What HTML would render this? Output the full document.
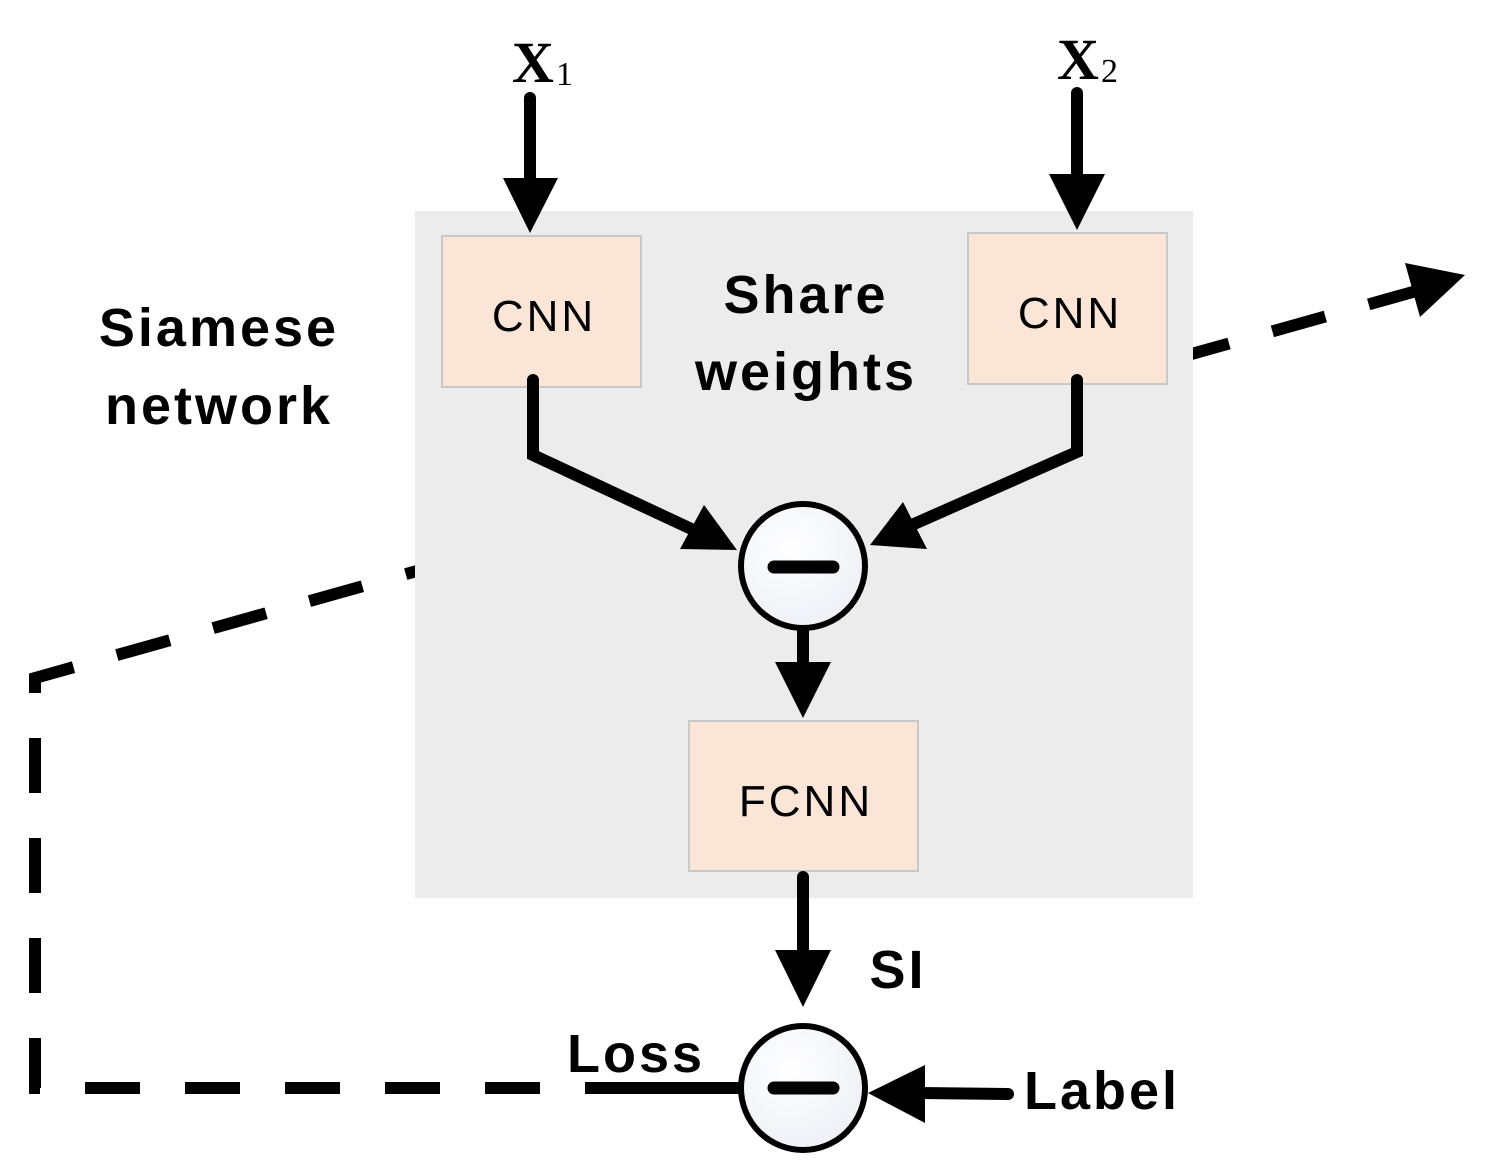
<!DOCTYPE html>
<html><head><meta charset="utf-8"><style>
html,body{margin:0;padding:0;background:#fff;}
svg{display:block;}
</style></head><body>
<svg width="1485" height="1170" viewBox="0 0 1485 1170" xmlns="http://www.w3.org/2000/svg">
<defs>
<radialGradient id="g" cx="0.4" cy="0.35" r="0.7"><stop offset="0" stop-color="#ffffff"/><stop offset="1" stop-color="#eef0f6"/></radialGradient>
</defs>
<polyline points="640,1088 35,1088 35,678 1420,290" fill="none" stroke="#000" stroke-width="12" stroke-dasharray="55,45"/>
<polygon points="1465,275 1405,263 1420,317" fill="#000"/>
<rect x="415" y="211" width="778" height="687" fill="#ececec"/>
<rect x="442" y="236" width="199" height="151" fill="#fbe5d6" stroke="#c8c8c8" stroke-width="2"/>
<rect x="968" y="233" width="199" height="151" fill="#fbe5d6" stroke="#c8c8c8" stroke-width="2"/>
<rect x="689" y="721" width="229" height="150" fill="#fbe5d6" stroke="#c8c8c8" stroke-width="2"/>
<g font-family="'Liberation Sans',sans-serif" font-size="44" fill="#000" text-anchor="middle">
<text x="544" y="331" letter-spacing="3">CNN</text>
<text x="1070" y="328" letter-spacing="3">CNN</text>
<text x="806" y="816" letter-spacing="3">FCNN</text>
</g>
<g stroke="#000" stroke-width="12" fill="none" stroke-linecap="round" stroke-linejoin="miter">
<line x1="530" y1="98" x2="530" y2="185"/>
<line x1="1077" y1="93" x2="1077" y2="180"/>
<polyline points="533,380 533,455 700,533"/>
<polyline points="1077,380 1077,452 905,528"/>
<line x1="803" y1="630" x2="803" y2="665"/>
<line x1="803" y1="877" x2="803" y2="955"/>
<line x1="1008" y1="1094" x2="920" y2="1093"/>
<line x1="640" y1="1088" x2="742" y2="1088" stroke-linecap="butt"/>
</g>
<g fill="#000">
<polygon points="503,178 558,178 530,233"/>
<polygon points="1049,174 1105,174 1077,230"/>
<polygon points="737,550 680,549 704,505"/>
<polygon points="870,545 927,549 903,502"/>
<polygon points="775,662 831,662 803,718"/>
<polygon points="775,950 831,950 803,1007"/>
<polygon points="868,1093 925,1065 925,1123"/>
</g>
<circle cx="803" cy="566" r="62" fill="url(#g)" stroke="#000" stroke-width="6"/>
<line x1="774" y1="567" x2="833" y2="567" stroke="#000" stroke-width="13" stroke-linecap="round"/>
<circle cx="803" cy="1088" r="62" fill="url(#g)" stroke="#000" stroke-width="6"/>
<line x1="774" y1="1088" x2="833" y2="1088" stroke="#000" stroke-width="13" stroke-linecap="round"/>
<g font-family="'Liberation Sans',sans-serif" font-weight="bold" font-size="54" fill="#000" text-anchor="middle" letter-spacing="3">
<text x="219" y="346">Siamese</text>
<text x="219" y="424">network</text>
<text x="806" y="313">Share</text>
<text x="806" y="390">weights</text>
<text x="898" y="988">SI</text>
<text x="636" y="1072">Loss</text>
<text x="1102" y="1109">Label</text>
</g>
<g font-family="'Liberation Serif',serif" fill="#000">
<text x="512" y="82" font-size="58" font-weight="bold">X</text>
<text x="556" y="85" font-size="34">1</text>
<text x="1057" y="79" font-size="58" font-weight="bold">X</text>
<text x="1101" y="82" font-size="34">2</text>
</g>
</svg>
</body></html>
